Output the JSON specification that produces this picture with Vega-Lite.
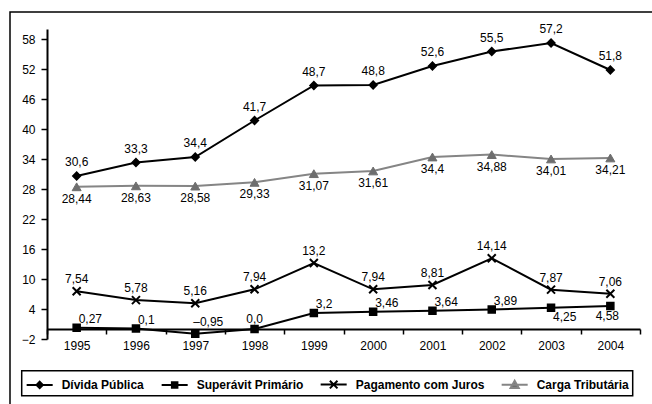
{
  "$schema": "https://vega.github.io/schema/vega-lite/v6.json",
  "width": 642,
  "height": 392,
  "autosize": {"type": "none"},
  "padding": {"left": 10, "top": 12, "right": 0, "bottom": 0},
  "background": "#ffffff",
  "config": {
    "view": {"stroke": "#000000", "strokeWidth": 1.5, "strokeDash": [642, 1034, 392]},
    "font": "Liberation Sans",
    "axis": {
      "domainColor": "#000000",
      "domainWidth": 2,
      "tickColor": "#000000",
      "tickWidth": 1.5,
      "labelFont": "Liberation Sans",
      "labelFontSize": 12,
      "labelColor": "#000000",
      "grid": false,
      "title": null
    },
    "legend": {"strokeWidth": 1.5},
    "text": {"font": "Liberation Sans", "fontSize": 12, "fill": "#000000"}
  },
  "data": {
    "values": [
      {"ano": "1995", "serie": "Dívida Pública", "valor": 30.6, "rotulo": "30,6"},
      {"ano": "1996", "serie": "Dívida Pública", "valor": 33.3, "rotulo": "33,3"},
      {"ano": "1997", "serie": "Dívida Pública", "valor": 34.4, "rotulo": "34,4"},
      {"ano": "1998", "serie": "Dívida Pública", "valor": 41.7, "rotulo": "41,7"},
      {"ano": "1999", "serie": "Dívida Pública", "valor": 48.7, "rotulo": "48,7"},
      {"ano": "2000", "serie": "Dívida Pública", "valor": 48.8, "rotulo": "48,8"},
      {"ano": "2001", "serie": "Dívida Pública", "valor": 52.6, "rotulo": "52,6"},
      {"ano": "2002", "serie": "Dívida Pública", "valor": 55.5, "rotulo": "55,5"},
      {"ano": "2003", "serie": "Dívida Pública", "valor": 57.2, "rotulo": "57,2"},
      {"ano": "2004", "serie": "Dívida Pública", "valor": 51.8, "rotulo": "51,8"},
      {"ano": "1995", "serie": "Superávit Primário", "valor": 0.27, "rotulo": "0,27"},
      {"ano": "1996", "serie": "Superávit Primário", "valor": 0.1, "rotulo": "0,1"},
      {"ano": "1997", "serie": "Superávit Primário", "valor": -0.95, "rotulo": "–0,95"},
      {"ano": "1998", "serie": "Superávit Primário", "valor": 0.0, "rotulo": "0,0"},
      {"ano": "1999", "serie": "Superávit Primário", "valor": 3.2, "rotulo": "3,2"},
      {"ano": "2000", "serie": "Superávit Primário", "valor": 3.46, "rotulo": "3,46"},
      {"ano": "2001", "serie": "Superávit Primário", "valor": 3.64, "rotulo": "3,64"},
      {"ano": "2002", "serie": "Superávit Primário", "valor": 3.89, "rotulo": "3,89"},
      {"ano": "2003", "serie": "Superávit Primário", "valor": 4.25, "rotulo": "4,25"},
      {"ano": "2004", "serie": "Superávit Primário", "valor": 4.58, "rotulo": "4,58"},
      {"ano": "1995", "serie": "Pagamento com Juros", "valor": 7.54, "rotulo": "7,54"},
      {"ano": "1996", "serie": "Pagamento com Juros", "valor": 5.78, "rotulo": "5,78"},
      {"ano": "1997", "serie": "Pagamento com Juros", "valor": 5.16, "rotulo": "5,16"},
      {"ano": "1998", "serie": "Pagamento com Juros", "valor": 7.94, "rotulo": "7,94"},
      {"ano": "1999", "serie": "Pagamento com Juros", "valor": 13.2, "rotulo": "13,2"},
      {"ano": "2000", "serie": "Pagamento com Juros", "valor": 7.94, "rotulo": "7,94"},
      {"ano": "2001", "serie": "Pagamento com Juros", "valor": 8.81, "rotulo": "8,81"},
      {"ano": "2002", "serie": "Pagamento com Juros", "valor": 14.14, "rotulo": "14,14"},
      {"ano": "2003", "serie": "Pagamento com Juros", "valor": 7.87, "rotulo": "7,87"},
      {"ano": "2004", "serie": "Pagamento com Juros", "valor": 7.06, "rotulo": "7,06"},
      {"ano": "1995", "serie": "Carga Tributária", "valor": 28.44, "rotulo": "28,44"},
      {"ano": "1996", "serie": "Carga Tributária", "valor": 28.63, "rotulo": "28,63"},
      {"ano": "1997", "serie": "Carga Tributária", "valor": 28.58, "rotulo": "28,58"},
      {"ano": "1998", "serie": "Carga Tributária", "valor": 29.33, "rotulo": "29,33"},
      {"ano": "1999", "serie": "Carga Tributária", "valor": 31.07, "rotulo": "31,07"},
      {"ano": "2000", "serie": "Carga Tributária", "valor": 31.61, "rotulo": "31,61"},
      {"ano": "2001", "serie": "Carga Tributária", "valor": 34.4, "rotulo": "34,4"},
      {"ano": "2002", "serie": "Carga Tributária", "valor": 34.88, "rotulo": "34,88"},
      {"ano": "2003", "serie": "Carga Tributária", "valor": 34.01, "rotulo": "34,01"},
      {"ano": "2004", "serie": "Carga Tributária", "valor": 34.21, "rotulo": "34,21"}
    ]
  },
  "encoding": {
    "x": {
      "field": "ano",
      "type": "ordinal",
      "scale": {"type": "band", "range": [37, 630], "paddingInner": 0, "paddingOuter": 0},
      "axis": {
        "orient": "bottom",
        "offset": -75,
        "tickBand": "extent",
        "tickSize": 5,
        "labelPadding": 6,
        "labelAngle": 0
      }
    },
    "y": {
      "field": "valor",
      "type": "quantitative",
      "scale": {"domain": [-2, 60], "range": [327, 17], "nice": false, "zero": false},
      "axis": {
        "orient": "left",
        "offset": -37,
        "values": [-2, 4, 10, 16, 22, 28, 34, 40, 46, 52, 58],
        "tickSize": 6,
        "labelPadding": 6
      }
    }
  },
  "layer": [
    {
      "mark": {"type": "line", "strokeWidth": 2},
      "encoding": {
        "color": {
          "field": "serie",
          "type": "nominal",
          "scale": {
            "domain": ["Dívida Pública", "Superávit Primário", "Pagamento com Juros", "Carga Tributária"],
            "range": ["#000000", "#000000", "#000000", "#858585"]
          },
          "legend": {
            "orient": "none",
            "legendX": 11.7,
            "legendY": 358.7,
            "direction": "horizontal",
            "columns": 4,
            "title": null,
            "padding": 3,
            "strokeColor": "#000000",
            "symbolSize": 361,
            "symbolStrokeWidth": 2,
            "labelOffset": 16,
            "columnPadding": 12,
            "labelFont": "Liberation Sans",
            "labelFontSize": 12,
            "labelFontWeight": "bold",
            "labelColor": "#000000",
            "encode": {
              "symbols": {
                "update": {
                  "shape": {"signal": "datum.value === 'Dívida Pública' ? 'M-0.9,0H1.84M0.47,-0.33L0.8,0L0.47,0.33L0.14,0Z' : datum.value === 'Superávit Primário' ? 'M-0.9,0H1.84M0.18,-0.29H0.76V0.29H0.18Z' : datum.value === 'Pagamento com Juros' ? 'M-0.9,0H1.84M0.07,-0.4L0.87,0.4M0.07,0.4L0.87,-0.4' : 'M-0.9,0H1.84M0.47,-0.42L0.9,0.34L0.04,0.34Z'"},
                  "fill": {"signal": "datum.value === 'Carga Tributária' ? '#6e6e6e' : '#000000'"}
                }
              }
            }
          }
        }
      }
    },
    {
      "transform": [{"filter": "datum.serie === 'Dívida Pública'"}],
      "mark": {"type": "point", "shape": "diamond", "filled": true, "fill": "#000000", "stroke": "#000000", "strokeWidth": 1.5, "opacity": 1, "size": 60}
    },
    {
      "transform": [{"filter": "datum.serie === 'Superávit Primário'"}],
      "mark": {"type": "point", "shape": "square", "filled": true, "fill": "#000000", "stroke": "#000000", "strokeWidth": 1.5, "opacity": 1, "size": 49}
    },
    {
      "transform": [{"filter": "datum.serie === 'Pagamento com Juros'"}],
      "mark": {"type": "point", "shape": "M-1,-1L1,1M-1,1L1,-1", "filled": false, "stroke": "#000000", "strokeWidth": 2, "opacity": 1, "size": 64}
    },
    {
      "transform": [{"filter": "datum.serie === 'Carga Tributária'"}],
      "mark": {"type": "point", "shape": "triangle-up", "filled": true, "fill": "#6e6e6e", "stroke": "#6e6e6e", "strokeWidth": 1, "opacity": 1, "size": 81}
    },
    {
      "transform": [{"filter": "datum.serie === 'Dívida Pública'"}],
      "mark": {"type": "text", "baseline": "middle", "dy": -14},
      "encoding": {"text": {"field": "rotulo"}}
    },
    {
      "transform": [{"filter": "datum.serie === 'Pagamento com Juros'"}],
      "mark": {"type": "text", "baseline": "middle", "dy": -12},
      "encoding": {"text": {"field": "rotulo"}}
    },
    {
      "transform": [{"filter": "datum.serie === 'Carga Tributária'"}],
      "mark": {"type": "text", "baseline": "middle", "dy": 12},
      "encoding": {"text": {"field": "rotulo"}}
    },
    {
      "transform": [
        {"filter": {"and": [
          {"field": "serie", "equal": "Superávit Primário"},
          {"field": "ano", "oneOf": ["1995", "1996", "1999", "2000", "2001", "2002"]}
        ]}}
      ],
      "mark": {"type": "text", "baseline": "middle", "align": "left", "dx": 2, "dy": -9},
      "encoding": {"text": {"field": "rotulo"}}
    },
    {
      "transform": [
        {"filter": {"and": [
          {"field": "serie", "equal": "Superávit Primário"},
          {"field": "ano", "equal": "1997"}
        ]}}
      ],
      "mark": {"type": "text", "baseline": "middle", "align": "left", "dx": -2, "dy": -12},
      "encoding": {"text": {"field": "rotulo"}}
    },
    {
      "transform": [
        {"filter": {"and": [
          {"field": "serie", "equal": "Superávit Primário"},
          {"field": "ano", "equal": "1998"}
        ]}}
      ],
      "mark": {"type": "text", "baseline": "middle", "align": "center", "dy": -10},
      "encoding": {"text": {"field": "rotulo"}}
    },
    {
      "transform": [
        {"filter": {"and": [
          {"field": "serie", "equal": "Superávit Primário"},
          {"field": "ano", "equal": "2003"}
        ]}}
      ],
      "mark": {"type": "text", "baseline": "middle", "align": "left", "dx": 2, "dy": 9},
      "encoding": {"text": {"field": "rotulo"}}
    },
    {
      "transform": [
        {"filter": {"and": [
          {"field": "serie", "equal": "Superávit Primário"},
          {"field": "ano", "equal": "2004"}
        ]}}
      ],
      "mark": {"type": "text", "baseline": "middle", "align": "center", "dx": -3, "dy": 10},
      "encoding": {"text": {"field": "rotulo"}}
    }
  ]
}
